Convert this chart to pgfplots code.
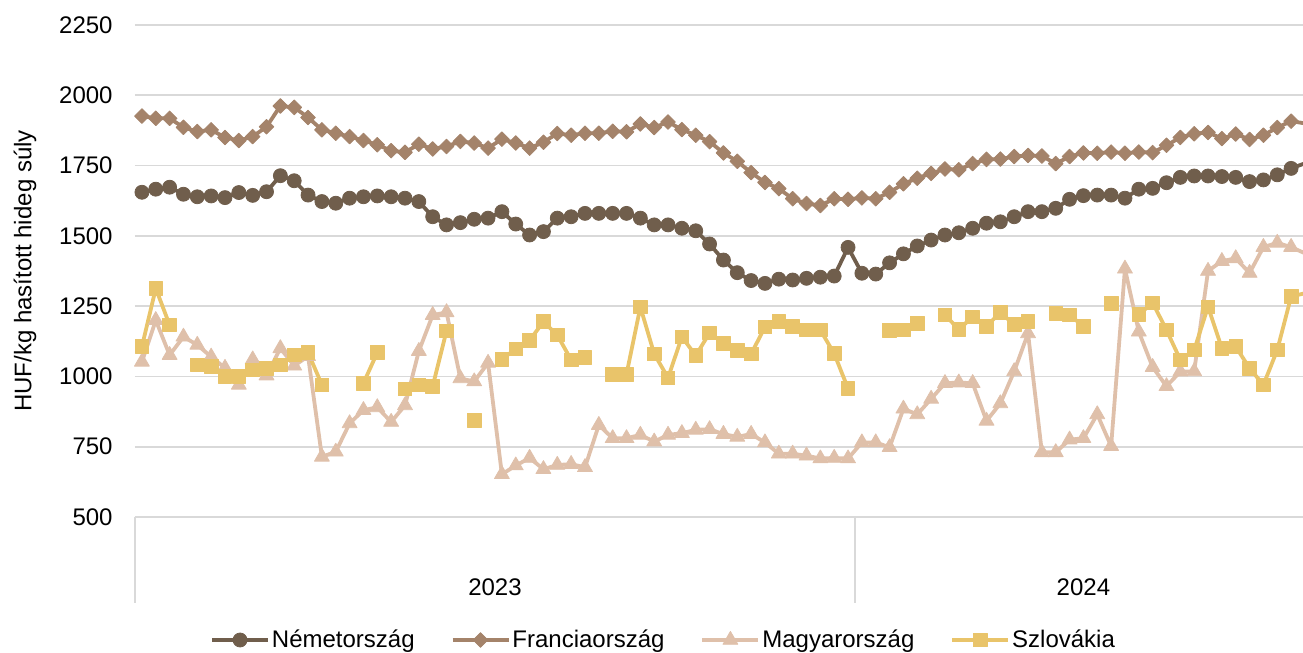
\documentclass[border=0pt]{standalone}
\usepackage{fontspec}
\setmainfont{Liberation Sans}
\usepackage{pgfplots}
\pgfplotsset{compat=1.18}
\usepackage{pgfplotstable}
\usetikzlibrary{calc}

\definecolor{cde}{HTML}{705E4C}
\definecolor{cfr}{HTML}{A4836A}
\definecolor{chu}{HTML}{DFC0AA}
\definecolor{csk}{HTML}{E9C46A}
\definecolor{gridc}{HTML}{D9D9D9}

\pgfplotstableread{
x de fr hu sk
0 1655 1926 1052 1106
1 1666 1918 1200 1313
2 1673 1918 1076 1183
3 1648 1886 1141 nan
4 1639 1871 1112 1041
5 1642 1877 1070 1035
6 1636 1850 1030 1000
7 1654 1839 970 1000
8 1644 1853 1060 1023
9 1657 1888 1003 1029
10 1714 1962 1100 1041
11 1696 1957 1038 1076
12 1645 1921 1072 1085
13 1622 1877 714 970
14 1616 1865 732 nan
15 1634 1853 833 nan
16 1639 1839 880 976
17 1642 1824 890 1085
18 1639 1803 838 nan
19 1634 1797 897 956
20 1622 1826 1090 970
21 1568 1809 1218 965
22 1539 1818 1228 1162
23 1547 1836 993 nan
24 1559 1830 982 843
25 1563 1812 1048 nan
26 1586 1844 652 1061
27 1542 1830 683 1098
28 1503 1812 710 1128
29 1515 1833 670 1195
30 1563 1864 685 1147
31 1568 1858 688 1059
32 1580 1865 677 1068
33 1580 1865 827 nan
34 1580 1872 780 1008
35 1580 1870 780 1008
36 1563 1898 792 1247
37 1539 1885 768 1080
38 1539 1905 792 995
39 1527 1878 798 1141
40 1518 1858 810 1074
41 1471 1835 812 1155
42 1414 1795 795 1117
43 1369 1765 785 1092
44 1341 1725 795 1080
45 1331 1690 765 1176
46 1346 1668 725 1195
47 1343 1632 725 1179
48 1349 1615 718 1165
49 1353 1608 708 1165
50 1357 1632 710 1081
51 1459 1630 708 957
52 1367 1635 765 nan
53 1364 1632 765 nan
54 1404 1655 748 1163
55 1436 1685 885 1165
56 1464 1705 865 1189
57 1485 1722 920 nan
58 1503 1738 976 1219
59 1511 1735 978 1167
60 1527 1757 976 1212
61 1545 1772 842 1178
62 1550 1773 904 1228
63 1568 1782 1018 1184
64 1586 1786 1153 1195
65 1586 1784 730 nan
66 1598 1757 730 1224
67 1630 1782 775 1219
68 1643 1795 780 1178
69 1645 1794 865 nan
70 1645 1798 752 1260
71 1634 1794 1383 nan
72 1666 1798 1159 1220
73 1669 1796 1033 1262
74 1689 1822 965 1165
75 1708 1850 1017 1059
76 1713 1863 1018 1094
77 1713 1868 1375 1248
78 1711 1846 1410 1100
79 1708 1862 1420 1106
80 1693 1843 1368 1029
81 1699 1858 1460 970
82 1717 1885 1475 1094
83 1740 1908 1460 1284
84 1758 1900 1438 1296
}\data

\begin{document}
\begin{tikzpicture}[font=\fontsize{12}{14}\selectfont]
\begin{axis}[
  scale only axis, width=584pt, height=246pt,
  xmin=-0.5, xmax=83.86, ymin=500, ymax=2250,
  ytick={500,750,...,2250},
  xtick=\empty,
  scaled y ticks=false,
  ymajorgrids, grid style={gridc, line width=0.9pt},
  axis line style={draw=none},
  major tick length=0pt,
  yticklabel style={/pgf/number format/assume math mode=true,
    /pgf/number format/set thousands separator={}, inner sep=0pt, xshift=-11pt},
  unbounded coords=jump,
  legend columns=4,
  legend style={at={(0.4525,-0.25)}, anchor=center, draw=none, fill=none,
    /tikz/every even column/.append style={column sep=17pt},
    nodes={inner xsep=1pt, inner ysep=0pt}},
  legend image code/.code={\draw[#1, mark repeat=2, mark phase=2] plot coordinates {(0pt,0pt) (14pt,0pt) (28pt,0pt)};},
  every axis plot/.append style={line width=1.9pt, line join=round},
]
\addplot[cde, mark=*, mark size=3.5pt, mark options={line width=0.4pt, fill=cde}] table[x=x,y=de]{\data};
\addlegendentry{Németország}
\addplot[cfr, mark=square*, mark size=2.6pt, mark options={rotate=45, line width=0.4pt, fill=cfr}] table[x=x,y=fr]{\data};
\addlegendentry{Franciaország}
\addplot[chu, mark=triangle*, mark size=4.3pt, mark options={line width=0.4pt, fill=chu}] table[x=x,y=hu]{\data};
\addlegendentry{Magyarország}
\addplot[csk, mark=square*, mark size=3.4pt, mark options={line width=0.4pt, fill=csk}] table[x=x,y=sk]{\data};
\addlegendentry{Szlovákia}
\coordinate (SW) at (rel axis cs:0,0);
\coordinate (NE) at (rel axis cs:1,1);
\coordinate (YM) at (rel axis cs:0,0.5);
\coordinate (SEP) at (axis cs:51.5,500);
\coordinate (Y23) at (axis cs:25.5,500);
\coordinate (Y24) at (axis cs:68,500);
\end{axis}
\draw[gridc, line width=0.9pt] (SW) -- ++(0,-43pt);
\draw[gridc, line width=0.9pt] (SEP) -- ++(0,-43pt);
\node at ($(Y23)+(0,-35pt)$) {2023};
\node at ($(Y24)+(0,-35pt)$) {2024};
\node[rotate=90] at ($(YM)+(-55pt,0)$) {HUF/kg hasított hideg súly};
\pgfresetboundingbox
\path[use as bounding box] ($(SW)+(-67.5pt,-68pt)$) rectangle ($(NE)+(0,12.5pt)$);
\end{tikzpicture}
\end{document}
